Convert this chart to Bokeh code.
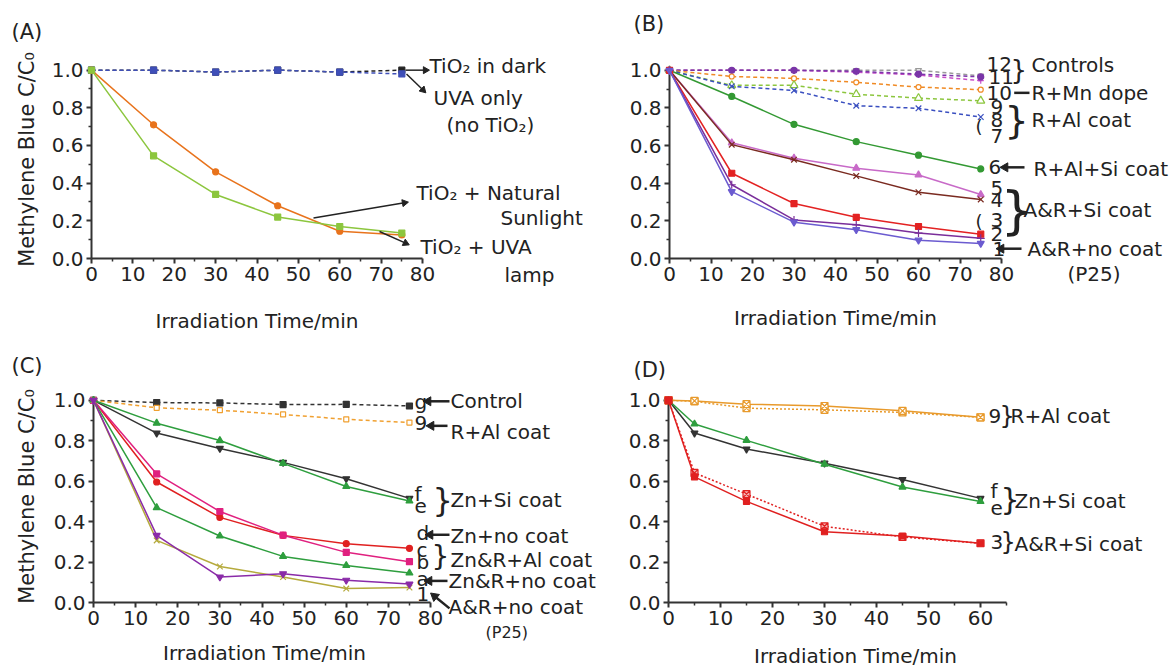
import math
from bokeh.plotting import figure
from bokeh.layouts import column, row
from bokeh.models import Range1d, FixedTicker, NumeralTickFormatter
from bokeh.core.properties import value
from bokeh.embed import file_html
from bokeh.resources import INLINE

FONT = "DejaVu Sans"
INK = "#222222"

# ---------------- data ----------------
time_A = [0, 15, 30, 45, 60, 75]
A_tio2_dark = [1.00, 1.00, 0.99, 1.00, 0.99, 1.00]
A_uva_only = [1.00, 1.00, 0.99, 1.00, 0.99, 0.98]
A_sunlight = [1.00, 0.71, 0.46, 0.28, 0.145, 0.125]
A_uva_lamp = [1.00, 0.545, 0.34, 0.22, 0.17, 0.135]

time_B = [0, 15, 30, 45, 60, 75]
B_1 = [1.00, 0.355, 0.193, 0.153, 0.097, 0.080]
B_2 = [1.00, 0.392, 0.205, 0.179, 0.135, 0.107]
B_3 = [1.00, 0.453, 0.292, 0.219, 0.170, 0.129]
B_4 = [1.00, 0.605, 0.525, 0.439, 0.352, 0.314]
B_5 = [1.00, 0.615, 0.533, 0.480, 0.444, 0.340]
B_6 = [1.00, 0.861, 0.713, 0.621, 0.549, 0.476]
B_8 = [1.00, 0.915, 0.893, 0.812, 0.798, 0.752]
B_9 = [1.00, 0.920, 0.920, 0.873, 0.852, 0.838]
B_10 = [1.00, 0.967, 0.957, 0.936, 0.911, 0.897]
B_11 = [1.00, 1.00, 1.00, 0.99, 0.975, 0.945]
B_12 = [1.00, 1.00, 1.00, 0.995, 0.98, 0.965]
B_ctrl = [1.00, 1.00, 1.00, 1.00, 1.00, 0.97]

time_C = [0, 15, 30, 45, 60, 75]
C_control = [1.0, 0.989, 0.987, 0.979, 0.980, 0.972]
C_r_al = [1.0, 0.963, 0.951, 0.930, 0.906, 0.890]
C_zn_si_green = [1.0, 0.887, 0.801, 0.688, 0.574, 0.502]
C_zn_si_black = [1.0, 0.838, 0.762, 0.693, 0.612, 0.515]
C_red = [1.0, 0.596, 0.421, 0.332, 0.291, 0.268]
C_magenta = [1.0, 0.636, 0.450, 0.333, 0.248, 0.202]
C_green_low = [1.0, 0.469, 0.329, 0.228, 0.183, 0.146]
C_purple = [1.0, 0.332, 0.126, 0.142, 0.110, 0.091]
C_olive = [1.0, 0.307, 0.178, 0.126, 0.069, 0.074]

time_D = [0, 5, 15, 30, 45, 60]
D_9_solid = [1.0, 0.997, 0.981, 0.972, 0.948, 0.916]
D_9_dot = [1.0, 0.995, 0.961, 0.953, 0.940, 0.916]
D_e = [1.0, 0.883, 0.802, 0.684, 0.571, 0.500]
D_f = [1.0, 0.838, 0.759, 0.689, 0.608, 0.515]
D_3_solid = [1.0, 0.621, 0.500, 0.350, 0.329, 0.293]
D_3_dot = [1.0, 0.641, 0.536, 0.377, 0.324, 0.293]

y_major = [0.0, 0.2, 0.4, 0.6, 0.8, 1.0]
y_minor = [0.1, 0.3, 0.5, 0.7, 0.9]
x_major_80 = [0, 10, 20, 30, 40, 50, 60, 70, 80]
x_minor_80 = [5, 15, 25, 35, 45, 55, 65, 75]
x_major_60 = [0, 10, 20, 30, 40, 50, 60]
x_minor_60 = [5, 15, 25, 35, 45, 55, 65]

Y_TITLE = "Methylene Blue C/C\u2080"
X_TITLE = "Irradiation Time/min"


def panel(ox, oy, w, h, X0, Xend, Y0, Y1, Ytop, xmax, xt, xm, ylabel, xstand, ystand):
    mbl = int(round(X0 - ox)); mbr = int(round(ox + w - Xend))
    mbt = int(round(Ytop - oy)); mbb = int(round(oy + h - Y0))
    fw = w - mbl - mbr; fh = h - mbt - mbb
    sx = fw / xmax
    sy = float(Y0 - Y1)
    p = figure(width=w, height=h, x_range=Range1d(0, xmax), y_range=Range1d(0, fh / sy),
               min_border_left=mbl, min_border_right=mbr, min_border_top=mbt,
               min_border_bottom=mbb, toolbar_location=None, output_backend="svg",
               outline_line_color=None, background_fill_color="white",
               border_fill_color="white")
    p.xgrid.visible = False
    p.ygrid.visible = False
    p.xaxis.ticker = FixedTicker(ticks=xt, minor_ticks=xm)
    p.yaxis.ticker = FixedTicker(ticks=y_major, minor_ticks=y_minor)
    p.yaxis.formatter = NumeralTickFormatter(format="0.0")
    p.yaxis.bounds = (0, 1)
    p.xaxis.bounds = (0, xmax)
    for ax in (p.xaxis[0], p.yaxis[0]):
        ax.axis_line_color = "#333333"; ax.axis_line_width = 2
        ax.major_tick_line_color = "#333333"; ax.major_tick_line_width = 2
        ax.major_tick_out = 5; ax.major_tick_in = 0
        ax.minor_tick_line_color = "#333333"; ax.minor_tick_line_width = 1.5
        ax.minor_tick_out = 3; ax.minor_tick_in = 0
        ax.major_label_text_font = FONT; ax.major_label_text_font_size = "20px"
        ax.major_label_text_color = INK; ax.major_label_standoff = 3
        ax.axis_label_text_font = FONT; ax.axis_label_text_font_style = "normal"
        ax.axis_label_text_color = INK
    if xstand is not None:
        p.xaxis.axis_label = X_TITLE
        p.xaxis.axis_label_text_font_size = "20px"
        p.xaxis.axis_label_standoff = xstand
    if ylabel:
        p.yaxis.axis_label = Y_TITLE
        p.yaxis.axis_label_text_font_size = "21px"
        p.yaxis.axis_label_standoff = ystand
    g = dict(x0=ox + mbl, y0=oy + h - mbb, sx=sx, sy=sy)
    return p, g


def series(p, x, y, color, marker, dash="solid", fill=None, size=6, lw=1.5):
    p.line(x, y, line_color=color, line_width=lw, line_dash=dash, level="overlay")
    p.scatter(x, y, marker=marker, size=size, line_color=color,
              fill_color=fill if fill else color, line_width=1.2, level="overlay")


def dx(g, px):
    return (px - g["x0"]) / g["sx"]


def dy(g, py):
    return (g["y0"] - py) / g["sy"]


def lab(p, g, px, py, text, size=20, align="left"):
    p.text(x=[dx(g, px)], y=[dy(g, py)], text=[text], text_font=value(FONT),
           text_font_size=value(f"{size}px"), text_color=INK, text_align=align,
           text_baseline="middle", level="overlay")


def arr(p, g, x1, y1, x2, y2, lw=2.5, size=9):
    ang = math.atan2(-(y2 - y1), (x2 - x1))
    back = size * 0.3
    hx = x2 - back * math.cos(ang)
    hy = y2 + back * math.sin(ang)
    p.segment(x0=[dx(g, x1)], y0=[dy(g, y1)], x1=[dx(g, hx)], y1=[dy(g, hy)],
              line_color=INK, line_width=lw, level="overlay")
    p.scatter(x=[dx(g, hx)], y=[dy(g, hy)], marker="triangle", size=size,
              angle=ang - math.pi / 2, fill_color=INK, line_color=INK, level="overlay")


# ---------------- panel A ----------------
pA, gA = panel(0, 0, 598, 335, 91, 422, 260, 65, 55, 80, x_major_80, x_minor_80, True, 25, 10)
series(pA, time_A, A_tio2_dark, "#222222", "square", dash="4 3")
series(pA, time_A, A_uva_only, "#3F4FB8", "square", dash="4 3")
series(pA, time_A, A_sunlight, "#E8731C", "circle")
series(pA, time_A, A_uva_lamp, "#8CC63E", "square")
lab(pA, gA, 11, 25, "(A)", 21)
lab(pA, gA, 429, 61, "TiO\u2082 in dark")
arr(pA, gA, 405, 65, 427, 65, lw=1.5, size=7)
lab(pA, gA, 433, 94, "UVA only")
lab(pA, gA, 446, 122, "(no TiO\u2082)")
arr(pA, gA, 406, 69, 424, 87, lw=1.5, size=7)
lab(pA, gA, 416, 192, "TiO\u2082 + Natural")
lab(pA, gA, 500, 218, "Sunlight")
arr(pA, gA, 313, 218, 406, 202, lw=1.5, size=7)
lab(pA, gA, 420, 248, "TiO\u2082 + UVA")
lab(pA, gA, 504, 277, "lamp")
arr(pA, gA, 379, 232, 407, 245, lw=1.5, size=7)

# ---------------- panel B ----------------
pB, gB = panel(598, 0, 573, 335, 669, 1001, 262, 70, 60, 80, x_major_80, x_minor_80, False, 22, 10)
series(pB, time_B, B_ctrl, "#9A9A9A", "inverted_triangle", dash="4 3", fill="white")
series(pB, time_B, B_11, "#C84CC8", "cross", dash="4 3")
series(pB, time_B, B_12, "#7A35A8", "circle", dash="4 3")
series(pB, time_B, B_10, "#F08A24", "circle", dash="4 3", fill="white", size=5)
series(pB, time_B, B_9, "#8CC63E", "triangle", dash="4 3", fill="white", size=8)
series(pB, time_B, B_8, "#3A4FC0", "x", dash="4 3", size=8)
series(pB, time_B, B_6, "#339933", "circle")
series(pB, time_B, B_5, "#C86AC8", "triangle", size=7)
series(pB, time_B, B_4, "#7A2A20", "x", size=8)
series(pB, time_B, B_3, "#E32222", "square")
series(pB, time_B, B_2, "#7A2E9A", "cross", size=8)
series(pB, time_B, B_1, "#6B5BD0", "inverted_triangle", size=7)
lab(pB, gB, 633, 23, "(B)", 21)
lab(pB, gB, 986, 64, "12")
lab(pB, gB, 988, 77, "11")
lab(pB, gB, 1010, 70, "}", 26)
lab(pB, gB, 1031, 65, "Controls")
lab(pB, gB, 986, 93, "10")
arr(pB, gB, 1029, 93, 1011, 93)
lab(pB, gB, 1031, 93, "R+Mn dope")
lab(pB, gB, 990, 107, "9")
lab(pB, gB, 990, 121, "8")
lab(pB, gB, 990, 137, "7")
lab(pB, gB, 1004, 121, "}", 38)
lab(pB, gB, 975, 127, "(", 18)
lab(pB, gB, 1031, 121, "R+Al coat")
lab(pB, gB, 988, 169, "6")
arr(pB, gB, 1024, 169, 1002, 169)
lab(pB, gB, 1033, 171, "R+Al+Si coat")
lab(pB, gB, 990, 190, "5")
lab(pB, gB, 990, 202, "4")
lab(pB, gB, 990, 223, "3")
lab(pB, gB, 990, 237, "2")
lab(pB, gB, 992, 252, "1")
lab(pB, gB, 1000, 213, "}", 52)
lab(pB, gB, 975, 224, "(", 18)
lab(pB, gB, 1023, 213, "A&R+Si coat")
arr(pB, gB, 1021, 252, 998, 252)
lab(pB, gB, 1027, 252, "A&R+no coat")
lab(pB, gB, 1067, 278, "(P25)")

# ---------------- panel C ----------------
pC, gC = panel(0, 335, 598, 335, 93, 430, 606, 400, 390, 80, x_major_80, x_minor_80, True, None, 12)
series(pC, time_C, C_control, "#333333", "square", dash="4 3")
series(pC, time_C, C_r_al, "#F0A030", "square", dash="4 3", fill="white", size=5)
series(pC, time_C, C_zn_si_black, "#333333", "inverted_triangle", size=7)
series(pC, time_C, C_zn_si_green, "#2E9E3E", "triangle", size=7)
series(pC, time_C, C_red, "#E02020", "circle")
series(pC, time_C, C_magenta, "#E0207F", "square")
series(pC, time_C, C_green_low, "#2E9E3E", "triangle", size=7)
series(pC, time_C, C_olive, "#B5AA3C", "x", size=8)
series(pC, time_C, C_purple, "#8A2BA8", "inverted_triangle", size=7)
lab(pC, gC, 11, 365, "(C)", 21)
lab(pC, gC, 264, 657, X_TITLE, 20, align="center")
lab(pC, gC, 414, 402, "g")
arr(pC, gC, 449, 401, 425, 401)
lab(pC, gC, 450, 401, "Control")
lab(pC, gC, 414, 423, "9")
arr(pC, gC, 447, 426, 428, 426)
lab(pC, gC, 450, 432, "R+Al coat")
lab(pC, gC, 414, 495, "f")
lab(pC, gC, 414, 508, "e")
lab(pC, gC, 432, 502, "}", 32)
lab(pC, gC, 450, 502, "Zn+Si coat")
lab(pC, gC, 416, 535, "d")
arr(pC, gC, 449, 537, 427, 537)
lab(pC, gC, 450, 538, "Zn+no coat")
lab(pC, gC, 416, 552, "c")
lab(pC, gC, 416, 565, "b")
lab(pC, gC, 431, 559, "}", 28)
lab(pC, gC, 450, 563, "Zn&R+Al coat")
lab(pC, gC, 416, 582, "a")
arr(pC, gC, 447, 584, 426, 584)
lab(pC, gC, 448, 584, "Zn&R+no coat")
lab(pC, gC, 416, 597, "1")
arr(pC, gC, 449, 612, 432, 598)
lab(pC, gC, 448, 611, "A&R+no coat")
lab(pC, gC, 485, 637, "(P25)", 16)

# ---------------- panel D ----------------
pD, gD = panel(598, 335, 573, 335, 668, 1006, 602, 396, 386, 65, x_major_60, x_minor_60, False, None, 10)
series(pD, time_D, D_9_dot, "#E89A2C", "square_x", dash="2 2", fill="white", size=7)
series(pD, time_D, D_9_solid, "#E89A2C", "square_x", fill="white", size=7)
series(pD, time_D, D_f, "#333333", "inverted_triangle", size=7)
series(pD, time_D, D_e, "#2E9E3E", "triangle", size=7)
series(pD, time_D, D_3_dot, "#E02020", "square_x", dash="2 2", fill="#F4B0B0", size=7)
series(pD, time_D, D_3_solid, "#E02020", "square")
lab(pD, gD, 633, 365, "(D)", 21)
lab(pD, gD, 855, 657, X_TITLE, 20, align="center")
lab(pD, gD, 988, 412, "9")
lab(pD, gD, 999, 412, "}", 24)
lab(pD, gD, 1010, 412, "R+Al coat")
lab(pD, gD, 990, 488, "f")
lab(pD, gD, 990, 506, "e")
lab(pD, gD, 1000, 497, "}", 30)
lab(pD, gD, 1014, 499, "Zn+Si coat")
lab(pD, gD, 990, 540, "3")
lab(pD, gD, 1000, 540, "}", 24)
lab(pD, gD, 1014, 542, "A&R+Si coat")

layout = column(row(pA, pB), row(pC, pD))
open("out.html", "w").write(file_html(layout, INLINE))
